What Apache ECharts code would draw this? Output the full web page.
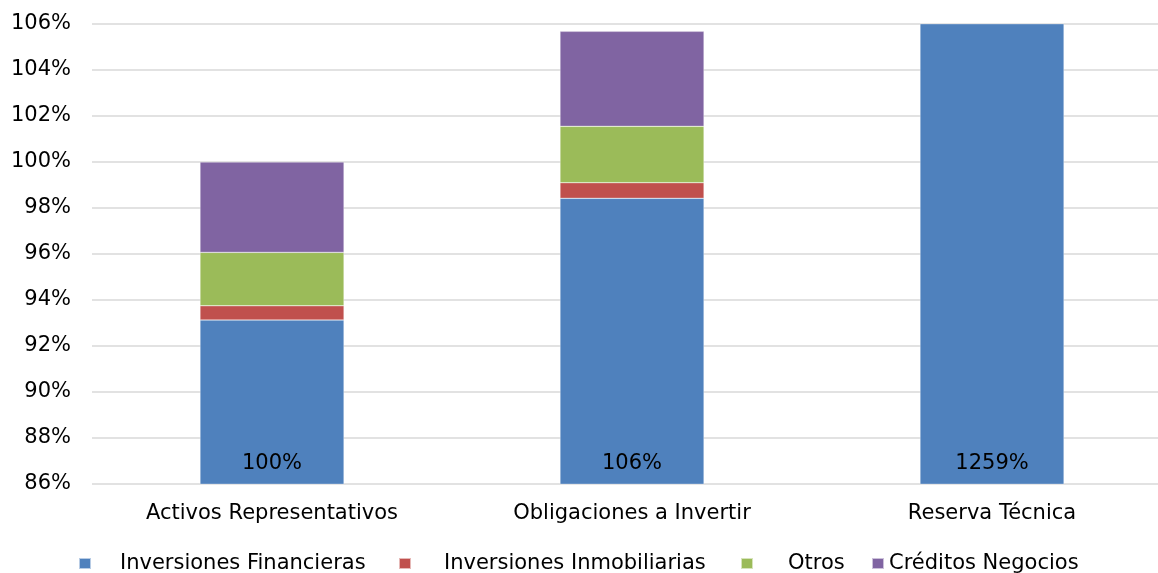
<!DOCTYPE html>
<html>
<head>
<meta charset="utf-8">
<script src="https://cdn.jsdelivr.net/npm/echarts@6/dist/echarts.min.js"></script>
<style>html,body{margin:0;padding:0;background:#fff;overflow:hidden}#c{width:1172px;height:573px}</style>
</head>
<body>
<div id="c"></div>
<script>
var categories = ['Activos Representativos', 'Obligaciones a Invertir', 'Reserva Técnica'];
var inversionesFinancieras = [93.13, 98.42, 1259];
var inversionesInmobiliarias = [0.62, 0.68, 0];
var otros = [2.32, 2.45, 0];
var creditosNegocios = [3.93, 4.13, 0];
var totalLabels = ['100%', '106%', '1259%'];
var yTicks = { min: 86, max: 106, interval: 2 };

var FONT = 'DejaVu Sans';
var colors = ['#4F81BD', '#C0504D', '#9BBB59', '#8064A2'];

function mk(name, data, color, withLabel) {
  var s = {
    name: name, type: 'bar', stack: 'total', data: data, barWidth: 144,
    itemStyle: { color: color, borderColor: 'rgba(255,255,255,0.6)', borderWidth: 0.5 },
    clip: true
  };
  if (withLabel) {
    s.label = {
      show: true, position: 'insideBottom', distance: 10,
      fontFamily: FONT, fontSize: 21, color: '#000',
      formatter: function (p) { return totalLabels[p.dataIndex]; }
    };
  }
  return s;
}

function lg(name, left, pad) {
  return {
    data: [name], left: left, top: 553, padding: 0, icon: 'rect', itemWidth: 12, itemHeight: 11,
    textStyle: { fontFamily: FONT, fontSize: 21, color: '#000', padding: [0, 0, 0, pad] }
  };
}

var chart = echarts.init(document.getElementById('c'), null, { renderer: 'canvas' });
chart.setOption({
  animation: false,
  color: colors,
  grid: { left: 92, top: 24, right: 0, height: 460, containLabel: false },
  legend: [
    lg('Inversiones Financieras', 78, 24),
    lg('Inversiones Inmobiliarias', 398, 28),
    lg('Otros', 740, 30),
    lg('Créditos Negocios', 871, 0)
  ],
  xAxis: {
    type: 'category', data: categories,
    axisLine: { show: false }, axisTick: { show: false },
    axisLabel: { fontFamily: FONT, fontSize: 21, color: '#000', margin: 19 }
  },
  yAxis: {
    type: 'value', min: yTicks.min, max: yTicks.max, interval: yTicks.interval,
    axisLine: { show: false }, axisTick: { show: false },
    axisLabel: { fontFamily: FONT, fontSize: 21, color: '#000', margin: 21, formatter: '{value}%' },
    splitLine: { lineStyle: { color: '#d9d9d9', width: 1.5 } }
  },
  series: [
    mk('Inversiones Financieras', inversionesFinancieras, colors[0], true),
    mk('Inversiones Inmobiliarias', inversionesInmobiliarias, colors[1], false),
    mk('Otros', otros, colors[2], false),
    mk('Créditos Negocios', creditosNegocios, colors[3], false)
  ]
});
</script>
</body>
</html>
